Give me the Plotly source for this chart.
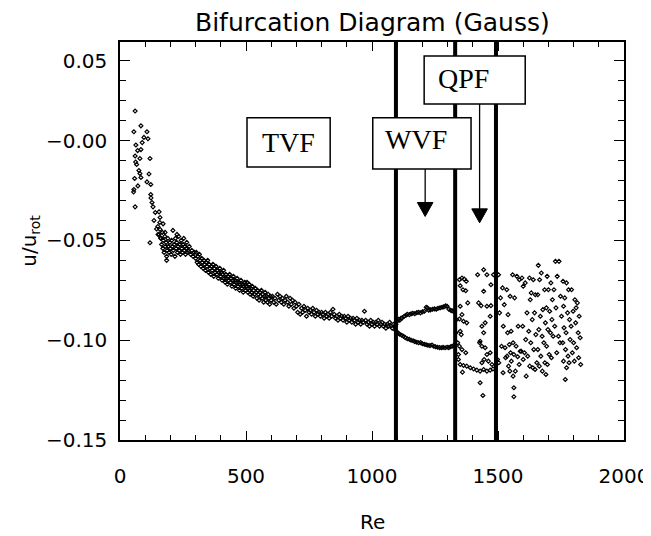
import plotly.graph_objects as go

# ---------------- data ----------------
early_re = [60, 83, 55, 107, 95, 111, 63, 70, 83, 60, 79, 119, 62, 75, 79, 83, 115, 107, 122, 71,
            55, 54, 122, 123, 60, 131, 155, 159, 171, 145, 159, 151, 179, 161, 226, 119,
            66, 88, 58, 127, 140, 135, 185]
early_u = [0.0148, 0.0074, 0.0044, 0.0044, 0.0016, 0.0009, -0.0022, -0.005, -0.0045, -0.0077,
           -0.009, -0.009, -0.0107, -0.015, -0.0165, -0.0185, -0.0167, -0.0207, -0.022, -0.0227,
           -0.0245, -0.0257, -0.027, -0.0287, -0.0332, -0.0332, -0.0357, -0.0385, -0.0417, -0.0443,
           -0.0445, -0.047, -0.046, -0.0487, -0.047, -0.0512,
           -0.012, -0.001, -0.019, -0.031, -0.036, -0.040, -0.060]

band1_re = [150, 155, 158, 162, 165, 168, 170, 172, 175, 178, 180, 183, 185, 187, 190, 192, 195, 198,
            200, 203, 205, 208, 210, 212, 215, 218, 220, 223, 225, 228, 230, 233, 235, 238, 240, 243,
            245, 248, 250, 253, 255, 258, 260, 263, 265, 268, 270, 275, 280, 285, 290, 295]
band1_u = [-0.043, -0.047, -0.041, -0.049, -0.052, -0.046, -0.054, -0.050, -0.056, -0.048,
           -0.053, -0.051, -0.058, -0.055, -0.049, -0.053, -0.056, -0.051, -0.054, -0.057,
           -0.050, -0.053, -0.045, -0.055, -0.052, -0.058, -0.049, -0.054, -0.051, -0.056,
           -0.053, -0.048, -0.055, -0.052, -0.057, -0.050, -0.054, -0.056, -0.052, -0.049,
           -0.055, -0.053, -0.057, -0.054, -0.051, -0.056, -0.055, -0.053, -0.057, -0.055,
           -0.058, -0.056]

band2_re = [300, 303, 306, 309, 312, 315, 318, 321, 324, 327, 330, 333, 336, 339, 342, 345, 348, 351,
            354, 357, 360, 363, 366, 369, 372, 375, 378, 381, 384, 387, 390, 393, 396, 399, 402, 405,
            408, 411, 414, 417, 420, 423, 426, 429, 432, 435, 438, 441, 444, 447, 450, 453, 456, 459,
            462, 465, 468, 471, 474, 477, 480, 483, 486, 489, 492, 495, 498, 501, 504, 507, 510, 513,
            516, 519, 522, 525, 528, 531, 534, 537, 540, 543, 546, 549, 552, 555, 558, 561, 564, 567,
            570, 573, 576, 579, 582, 585, 588, 591, 594, 597]
band2_u = [-0.059, -0.056, -0.061, -0.058, -0.062, -0.057, -0.060, -0.063, -0.059, -0.061,
           -0.064, -0.060, -0.062, -0.065, -0.061, -0.063, -0.060, -0.066, -0.062, -0.064,
           -0.067, -0.063, -0.065, -0.062, -0.068, -0.064, -0.066, -0.063, -0.067, -0.065,
           -0.069, -0.066, -0.064, -0.068, -0.066, -0.070, -0.067, -0.065, -0.069, -0.071,
           -0.067, -0.069, -0.072, -0.068, -0.070, -0.067, -0.071, -0.069, -0.073, -0.070,
           -0.068, -0.072, -0.070, -0.074, -0.071, -0.069, -0.073, -0.071, -0.075, -0.072,
           -0.070, -0.074, -0.072, -0.076, -0.073, -0.071, -0.075, -0.073, -0.071, -0.076,
           -0.074, -0.072, -0.077, -0.074, -0.076, -0.073, -0.078, -0.075, -0.077, -0.074,
           -0.076, -0.079, -0.075, -0.077, -0.080, -0.076, -0.078, -0.075, -0.079, -0.077,
           -0.081, -0.078, -0.076, -0.080, -0.078, -0.081, -0.077, -0.079, -0.082, -0.078]

band3_re = [600, 605, 610, 615, 620, 625, 630, 635, 640, 645, 650, 655, 660, 665, 670, 675, 680, 685,
            690, 695, 700, 705, 710, 715, 720, 725, 730, 735, 740, 745, 750, 755, 760, 765, 770, 775,
            780, 785, 790, 795, 800, 805, 810, 815, 820, 825, 830, 835, 840, 845, 850, 855, 860, 865,
            870, 875, 880, 885, 890, 895, 900, 905, 910, 915, 920, 925, 930, 935, 940, 945, 950, 955,
            960, 965, 970, 975, 980, 985, 990, 995, 1000, 1005, 1010, 1015, 1020, 1025, 1030, 1035,
            1040, 1045, 1050, 1055, 1060, 1065, 1070, 1075, 1080, 1085, 1090, 1093, 1095]
band3_u = [-0.080, -0.078, -0.081, -0.079, -0.082, -0.077, -0.080, -0.078, -0.081, -0.079,
           -0.082, -0.080, -0.078, -0.081, -0.083, -0.079, -0.082, -0.080, -0.084, -0.081,
           -0.083, -0.086, -0.082, -0.087, -0.084, -0.086, -0.083, -0.085, -0.088, -0.084,
           -0.086, -0.085, -0.087, -0.084, -0.086, -0.088, -0.085, -0.087, -0.086, -0.088,
           -0.086, -0.087, -0.089, -0.086, -0.088, -0.087, -0.089, -0.086, -0.088, -0.0845,
           -0.087, -0.089, -0.088, -0.090, -0.087, -0.089, -0.088, -0.090, -0.088, -0.089,
           -0.091, -0.088, -0.090, -0.089, -0.091, -0.089, -0.090, -0.092, -0.089, -0.091,
           -0.090, -0.092, -0.090, -0.091, -0.0855, -0.090, -0.092, -0.091, -0.093, -0.090,
           -0.092, -0.091, -0.093, -0.091, -0.092, -0.090, -0.093, -0.092, -0.091, -0.093,
           -0.092, -0.094, -0.092, -0.093, -0.091, -0.093, -0.094, -0.092, -0.093, -0.095, -0.092]

wvf_up_re = [1100, 1105, 1110, 1115, 1120, 1128, 1135, 1140, 1148, 1155, 1162, 1170, 1178, 1185, 1192,
             1200, 1208, 1215, 1220, 1225, 1232, 1240, 1248, 1255, 1262, 1270, 1278, 1285, 1292, 1298,
             1305, 1312, 1318, 1324]
wvf_up_u = [-0.0905, -0.0895, -0.0900, -0.0890, -0.0888, -0.0880, -0.0875, -0.0870, -0.0872, -0.0868,
            -0.0865, -0.0867, -0.0862, -0.0860, -0.0863, -0.0858, -0.0855, -0.0835, -0.0838, -0.0850,
            -0.0848, -0.0845, -0.0843, -0.0845, -0.0840, -0.0838, -0.0835, -0.0833, -0.0828, -0.0830,
            -0.0845, -0.0850, -0.0853, -0.0855]
wvf_lo_re = [1100, 1105, 1110, 1118, 1125, 1132, 1140, 1148, 1155, 1163, 1170, 1178, 1185, 1193, 1200,
             1208, 1215, 1222, 1230, 1238, 1245, 1252, 1260, 1268, 1275, 1282, 1290, 1298, 1305, 1312,
             1318, 1324]
wvf_lo_u = [-0.0960, -0.0965, -0.0970, -0.0975, -0.0980, -0.0987, -0.0993, -0.0995, -0.1000, -0.1003,
            -0.1007, -0.1010, -0.1013, -0.1012, -0.1018, -0.1020, -0.1023, -0.1025, -0.1027, -0.1024,
            -0.1030, -0.1033, -0.1035, -0.1037, -0.1038, -0.1036, -0.1038, -0.1035, -0.1037, -0.1033,
            -0.1030, -0.1027]

qpf_re = [1347, 1357, 1366, 1374, 1350, 1361, 1372, 1350, 1357, 1347, 1363, 1376, 1350, 1354, 1347,
          1357, 1372, 1343, 1350, 1363, 1376, 1390, 1403, 1416, 1429, 1443, 1456, 1469, 1480, 1359,
          1380, 1419, 1443, 1456, 1482, 1472, 1443, 1423, 1433, 1456, 1472, 1469, 1449, 1436, 1443,
          1429, 1427, 1436, 1449, 1469, 1456, 1445, 1436, 1462, 1476, 1429, 1440, 1335, 1333, 1340,
          1343]
qpf_u = [-0.0697, -0.0688, -0.0694, -0.0705, -0.0727, -0.0747, -0.0752, -0.083, -0.0872, -0.0894,
         -0.0905, -0.0913, -0.0955, -0.0972, -0.103, -0.1047, -0.1063, -0.1097, -0.1122, -0.1127,
         -0.113, -0.1138, -0.1144, -0.115, -0.1155, -0.1147, -0.1155, -0.115, -0.1144, -0.116,
         -0.0813, -0.0672, -0.0647, -0.0672, -0.0672, -0.0722, -0.0755, -0.0813, -0.0827, -0.083,
         -0.0827, -0.088, -0.0913, -0.093, -0.0963, -0.1005, -0.1013, -0.103, -0.1038, -0.1063,
         -0.1072, -0.1097, -0.1113, -0.1105, -0.1122, -0.1213, -0.1277, -0.0897, -0.0963, -0.1013,
         -0.1072]

post_re = [1502, 1518, 1510, 1525, 1506, 1521, 1514, 1528, 1503, 1520, 1498, 1530,
           1535, 1548, 1540, 1552, 1538, 1545, 1550, 1536, 1553, 1542, 1547,
           1558, 1575, 1585, 1566, 1580, 1560, 1572, 1588, 1563, 1578, 1584, 1569, 1560, 1563, 1563,
           1595, 1608, 1600, 1615, 1598, 1610, 1592, 1605, 1618, 1600, 1612,
           1625, 1640, 1632, 1648, 1628, 1645, 1636, 1622, 1650, 1630, 1642, 1654, 1626, 1638, 1647,
           1660, 1672, 1665, 1685, 1658, 1678, 1668, 1688, 1662, 1675, 1682, 1658, 1670, 1686, 1664,
           1676, 1690,
           1695, 1710, 1700, 1716, 1692, 1705, 1714, 1698, 1708, 1719, 1693, 1703, 1712, 1696,
           1728, 1742, 1735, 1722, 1748, 1730, 1752, 1725, 1740, 1746, 1733,
           1758, 1772, 1780, 1765, 1760, 1776, 1784, 1762, 1770, 1786, 1757, 1768, 1778, 1760, 1782,
           1772, 1767,
           1792, 1805, 1815, 1798, 1822, 1808, 1790, 1818, 1826, 1800, 1812, 1795, 1820, 1828, 1803,
           1810]
post_u = [-0.0672, -0.0738, -0.0788, -0.0822, -0.0863, -0.093, -0.103, -0.1038, -0.1113, -0.1163, -0.1097, -0.1088,
          -0.0747, -0.078, -0.0872, -0.0955, -0.0963, -0.1022, -0.1063, -0.108, -0.1105, -0.113, -0.1155,
          -0.0672, -0.068, -0.0697, -0.0788, -0.093, -0.1013, -0.103, -0.1055, -0.1072, -0.1083, -0.1122,
          -0.1155, -0.118, -0.1238, -0.1283,
          -0.0688, -0.0713, -0.073, -0.0863, -0.093, -0.0997, -0.1055, -0.1063, -0.108, -0.1097, -0.118,
          -0.0688, -0.0697, -0.0763, -0.0772, -0.0797, -0.0863, -0.0897, -0.0955, -0.0972, -0.1013,
          -0.1047, -0.1113, -0.113, -0.1138, -0.1147,
          -0.0625, -0.0663, -0.0697, -0.0747, -0.0772, -0.0847, -0.088, -0.0913, -0.0947, -0.098,
          -0.1013, -0.1047, -0.108, -0.1113, -0.113, -0.1155, -0.1172,
          -0.068, -0.0713, -0.0747, -0.0797, -0.0838, -0.0855, -0.0897, -0.0947, -0.0963, -0.098,
          -0.103, -0.1072, -0.1088, -0.1122,
          -0.0605, -0.0605, -0.068, -0.0747, -0.078, -0.0838, -0.088, -0.093, -0.098, -0.1013, -0.1063,
          -0.0705, -0.0713, -0.0747, -0.0788, -0.083, -0.0863, -0.0897, -0.0938, -0.0963, -0.0997,
          -0.1013, -0.1047, -0.108, -0.1105, -0.1113, -0.1138, -0.1197,
          -0.0747, -0.0797, -0.0813, -0.0855, -0.088, -0.0913, -0.093, -0.0963, -0.0988, -0.1013,
          -0.1038, -0.1063, -0.1088, -0.1122, -0.1105, -0.0838]

transitions_re = [1095, 1330, 1492]
regime_labels = ["TVF", "WVF", "QPF"]

x_ticks = [0, 500, 1000, 1500, 2000]
y_tickvals = [-0.15, -0.10, -0.05, 0.0, 0.04]
y_ticktext = ["\u22120.15", "\u22120.10", "\u22120.05", "\u22120.00", "0.05"]

# ---------------- figure ----------------
all_re = early_re + band1_re + band2_re + band3_re + wvf_up_re + wvf_lo_re + qpf_re + post_re
all_u = early_u + band1_u + band2_u + band3_u + wvf_up_u + wvf_lo_u + qpf_u + post_u

fig = go.Figure()
fig.add_trace(go.Scatter(
    x=all_re, y=all_u, mode="markers",
    marker=dict(symbol="diamond-open", size=3, color="black", line=dict(width=1.2, color="black")),
    showlegend=False, hoverinfo="x+y"))

# transition lines
for xr in transitions_re:
    fig.add_shape(type="line", x0=xr, x1=xr, y0=0, y1=1, xref="x", yref="paper",
                  line=dict(color="black", width=4), layer="above")

# label boxes (data coordinates)
boxes = {
    "TVF": dict(x0=504, x1=834, y0=-0.0132, y1=0.0114),
    "WVF": dict(x0=1003, x1=1393, y0=-0.0142, y1=0.0114),
    "QPF": dict(x0=1207, x1=1608, y0=0.0184, y1=0.0424),
}
text_pos = {"TVF": (669, -0.0009), "WVF": (1175, 0.0004), "QPF": (1362, 0.0309)}

# arrows (line + filled triangle head)
arrows = [dict(x=1211, y0=-0.0142, yh=-0.031, yt=-0.038),
          dict(x=1427, y0=0.0184, yh=-0.0342, yt=-0.0412)]
for a in arrows:
    fig.add_shape(type="line", x0=a["x"], x1=a["x"], y0=a["y0"], y1=a["yh"],
                  line=dict(color="black", width=1.3), layer="above")
    fig.add_shape(type="path",
                  path=f"M {a['x']-31} {a['yh']} L {a['x']+31} {a['yh']} L {a['x']} {a['yt']} Z",
                  fillcolor="black", line=dict(color="black", width=1), layer="above")

for lab in regime_labels:
    b = boxes[lab]
    fig.add_shape(type="rect", x0=b["x0"], x1=b["x1"], y0=b["y0"], y1=b["y1"],
                  fillcolor="white", line=dict(color="black", width=1.5), layer="above")
    tx, ty = text_pos[lab]
    fig.add_annotation(x=tx, y=ty, text=lab, showarrow=False, xanchor="center", yanchor="middle",
                       font=dict(family="Liberation Serif", size=28, color="black"))

axis_font = dict(family="DejaVu Sans", size=20, color="black")

fig.update_xaxes(range=[0, 2000], tickvals=x_ticks, ticktext=[str(v) for v in x_ticks],
                 ticks="inside", ticklen=9, tickwidth=1.2, tickcolor="black",
                 minor=dict(dtick=100, tick0=0, ticks="inside", ticklen=5, tickwidth=1.2, tickcolor="black"),
                 showline=True, linecolor="black", linewidth=1.5, mirror="ticks",
                 showgrid=False, zeroline=False, tickfont=axis_font, ticklabelstandoff=17,
                 automargin=False)
fig.update_yaxes(range=[-0.15, 0.0494], tickvals=y_tickvals, ticktext=y_ticktext,
                 ticks="inside", ticklen=10, tickwidth=1.2, tickcolor="black",
                 minor=dict(dtick=0.01, tick0=0, ticks="inside", ticklen=6, tickwidth=1.2, tickcolor="black"),
                 showline=True, linecolor="black", linewidth=1.5, mirror="ticks",
                 showgrid=False, zeroline=False, tickfont=axis_font, ticklabelstandoff=7,
                 automargin=False)

fig.add_annotation(text="Bifurcation Diagram (Gauss)", xref="paper", yref="paper", x=0.5, y=1.048,
                   showarrow=False, xanchor="center", yanchor="middle",
                   font=dict(family="DejaVu Sans", size=25, color="black"))
fig.add_annotation(text="Re", xref="paper", yref="paper", x=0.5, y=-0.205,
                   showarrow=False, xanchor="center", yanchor="middle", font=axis_font)
fig.add_annotation(text="u/u<sub>rot</sub>", xref="paper", yref="paper", x=-0.179, y=0.5,
                   textangle=-90, showarrow=False, xanchor="center", yanchor="middle", font=axis_font)

# the page body has an 8px margin, so the figure is 8px smaller and margins are shifted by 8
fig.update_layout(width=643, height=528, margin=dict(l=112, r=27, t=34, b=96, autoexpand=False),
                  paper_bgcolor="white", plot_bgcolor="white", showlegend=False)

fig.write_html("out.html")
